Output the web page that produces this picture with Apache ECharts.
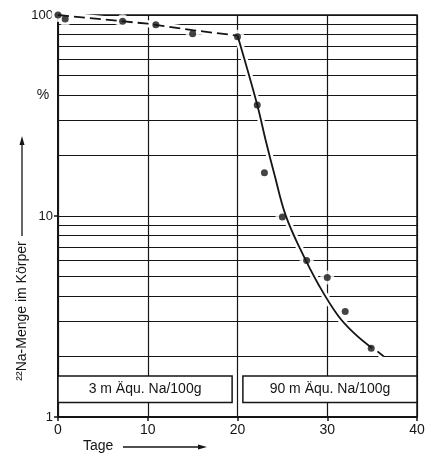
<!DOCTYPE html>
<html>
<head>
<meta charset="utf-8">
<script src="https://cdn.jsdelivr.net/npm/echarts@6/dist/echarts.min.js"></script>
<style>
  html, body { margin: 0; padding: 0; background: #fff; }
  #chart { width: 432px; height: 454px; }
</style>
</head>
<body>
<div id="chart"></div>
<script>
// gemessene Werte (Tage / 22Na-Menge in %)
const measDays = [0, 0.8, 7.2, 10.9, 15, 20, 22.2, 23, 25, 27.7, 30, 32, 34.9];
const measValues = [100, 95.5, 93, 89.5, 80.7, 78, 35.7, 16.4, 9.9, 6.0, 4.95, 3.35, 2.2];

// Ausgleichskurve
const fitDaysDashed = [0, 10, 15, 20];
const fitValuesDashed = [100, 90.5, 84, 79];
const fitDaysSolid = [20, 22.2, 23.13, 24.13, 25.36, 27.04, 29.05, 31.17, 32.96, 35];
const fitValuesSolid = [79, 35.7, 23.9, 16.0, 10.1, 6.78, 4.54, 3.21, 2.62, 2.2];
const tailDays = [35.6, 36.3];
const tailValues = [2.12, 2.0];

// Achsen
const xTicks = [0, 10, 20, 30, 40];
const gridValues = [2, 3, 4, 5, 6, 7, 8, 9, 20, 30, 40, 50, 60, 70, 80, 90];

// Na-Zufuhr Perioden
const doseLabels = ['3 m Äqu. Na/100g', '90 m Äqu. Na/100g'];
const doseFrom = [0, 20.6];
const doseTo = [19.4, 40];
const doseLow = 1.18;
const doseHigh = 1.6;

const zip = (a, b) => a.map((v, i) => [v, b[i]]);
const ink = '#151515';
const font = '"Liberation Sans", Arial, sans-serif';

const chart = echarts.init(document.getElementById('chart'));

chart.setOption({
  backgroundColor: '#fff',
  animation: false,
  grid: {
    left: 58, right: 15, top: 15, bottom: 37,
    show: true, borderColor: ink, borderWidth: 1.5
  },
  xAxis: {
    type: 'value',
    min: xTicks[0],
    max: xTicks[xTicks.length - 1],
    interval: 10,
    axisLine: { show: true, lineStyle: { color: ink, width: 2 } },
    axisTick: { show: true, length: 4, lineStyle: { color: ink, width: 1.5 } },
    axisLabel: { color: ink, fontSize: 14, fontFamily: font, margin: 6 },
    splitLine: { show: true, lineStyle: { color: ink, width: 1.2 } }
  },
  yAxis: {
    type: 'log',
    logBase: 10,
    min: 1,
    max: 100,
    axisLine: { show: true, lineStyle: { color: ink, width: 2 } },
    axisTick: { show: true, length: 4, lineStyle: { color: ink, width: 1.5 } },
    axisLabel: { color: ink, fontSize: 13, fontFamily: font, margin: 5 },
    splitLine: { show: true, lineStyle: { color: ink, width: 1.2 } },
    minorTick: { show: false },
    minorSplitLine: { show: false }
  },
  series: [
    {
      // Hilfslinien + weisser Rand um die Kurve
      type: 'line',
      data: zip(fitDaysDashed, fitValuesDashed),
      symbol: 'none',
      lineStyle: { color: '#fff', width: 7 },
      z: 2,
      silent: true,
      markLine: {
        silent: true,
        symbol: 'none',
        z: 1,
        label: { show: false },
        lineStyle: { color: ink, width: 1.2, type: 'solid' },
        data: gridValues.map(v => ({ yAxis: v }))
      }
    },
    {
      type: 'line',
      data: zip(fitDaysSolid, fitValuesSolid).concat(zip(tailDays, tailValues)),
      smooth: 0.4,
      symbol: 'none',
      lineStyle: { color: '#fff', width: 7 },
      z: 2,
      silent: true
    },
    {
      type: 'scatter',
      data: zip(measDays, measValues),
      symbolSize: 14,
      itemStyle: { color: '#fff' },
      z: 2,
      silent: true
    },
    {
      type: 'line',
      data: zip(fitDaysDashed, fitValuesDashed),
      symbol: 'none',
      lineStyle: { color: ink, width: 1.8, type: [11, 5] },
      z: 3
    },
    {
      type: 'line',
      data: zip(fitDaysSolid, fitValuesSolid),
      smooth: 0.4,
      symbol: 'none',
      lineStyle: { color: ink, width: 1.8 },
      z: 3
    },
    {
      type: 'line',
      data: zip(tailDays, tailValues),
      symbol: 'none',
      lineStyle: { color: ink, width: 1.8 },
      z: 3
    },
    {
      type: 'scatter',
      data: zip(measDays, measValues),
      symbolSize: 7,
      itemStyle: { color: ink },
      z: 4
    },
    {
      type: 'line',
      data: [],
      markArea: {
        silent: true,
        z: 6,
        itemStyle: { color: '#fff', opacity: 1, borderColor: ink, borderWidth: 1.5 },
        label: {
          show: true, position: 'inside', color: ink,
          fontSize: 14, fontFamily: font
        },
        data: doseLabels.map((name, i) => [
          { name: name, xAxis: doseFrom[i], yAxis: doseHigh },
          { xAxis: doseTo[i], yAxis: doseLow }
        ])
      }
    }
  ],
  graphic: [
    {
      type: 'text', x: 43, y: 95,
      style: { text: '%', font: '14px ' + font, fill: ink, textAlign: 'center', textVerticalAlign: 'middle' }
    },
    {
      type: 'text', x: 22, y: 311, rotation: Math.PI / 2,
      style: { text: '²²Na-Menge im Körper', font: '14px ' + font, fill: ink, textAlign: 'center', textVerticalAlign: 'middle' }
    },
    {
      type: 'line',
      shape: { x1: 22, y1: 236, x2: 22, y2: 142 },
      style: { stroke: ink, lineWidth: 1.3 }
    },
    {
      type: 'polygon',
      shape: { points: [[22, 136], [19.5, 145], [24.5, 145]] },
      style: { fill: ink }
    },
    {
      type: 'text', x: 83, y: 446,
      style: { text: 'Tage', font: '14px ' + font, fill: ink, textAlign: 'left', textVerticalAlign: 'middle' }
    },
    {
      type: 'line',
      shape: { x1: 123, y1: 447, x2: 200, y2: 447 },
      style: { stroke: ink, lineWidth: 1.3 }
    },
    {
      type: 'polygon',
      shape: { points: [[207, 447], [198, 444.5], [198, 449.5]] },
      style: { fill: ink }
    }
  ]
});
</script>
</body>
</html>
